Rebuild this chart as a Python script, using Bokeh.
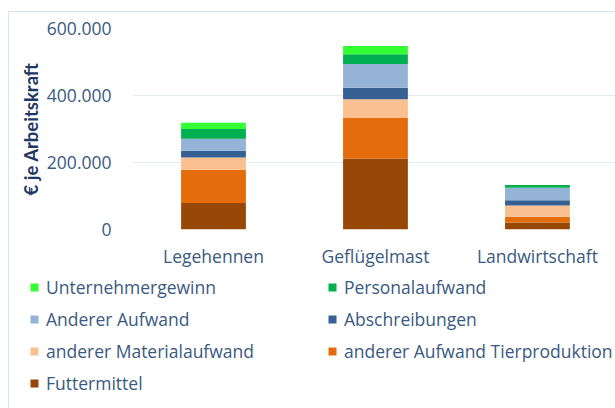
from bokeh.plotting import figure
from bokeh.layouts import column, row
from bokeh.models import Range1d, FixedTicker, Legend, LegendItem, ColumnDataSource
from bokeh.embed import file_html
from bokeh.resources import INLINE

categories = ["Legehennen", "Geflügelmast", "Landwirtschaft"]
futtermittel = [79000, 212000, 21000]
aufwand_tier = [99000, 121000, 17000]
material = [37000, 56000, 34000]
abschreibungen = [20000, 34000, 15000]
anderer_aufwand = [36000, 71000, 38000]
personal = [29000, 29000, 8000]
gewinn = [19000, 25000, 0]

series = [
    ("Futtermittel", futtermittel, "#974706"),
    ("anderer Aufwand Tierproduktion", aufwand_tier, "#E46C0A"),
    ("anderer Materialaufwand", material, "#FAC090"),
    ("Abschreibungen", abschreibungen, "#376092"),
    ("Anderer Aufwand", anderer_aufwand, "#95B3D7"),
    ("Personalaufwand", personal, "#00B050"),
    ("Unternehmergewinn", gewinn, "#33FF33"),
]
legend_order = ["Unternehmergewinn", "Personalaufwand", "Anderer Aufwand", "Abschreibungen",
                "anderer Materialaufwand", "anderer Aufwand Tierproduktion", "Futtermittel"]
y_ticks = [0, 200000, 400000, 600000]
y_tick_labels = ["0", "200.000", "400.000", "600.000"]

FONT = "Open Sans"
TXT = "#3A5A80"

xs = [i + 0.5 for i in range(len(categories))]

p = figure(width=607, height=258, output_backend="svg", toolbar_location=None,
           x_range=Range1d(0, 2.988), y_range=Range1d(0, 600000),
           min_border_left=123, min_border_top=16, min_border_right=0,
           min_border_bottom=41)
p.outline_line_color = None

bottom = [0] * len(categories)
for name, vals, col in series:
    top = [b + v for b, v in zip(bottom, vals)]
    src = ColumnDataSource(dict(x=xs, bottom=bottom, top=top))
    p.vbar(x="x", bottom="bottom", top="top", width=0.4, source=src,
           fill_color=col, line_color=None)
    bottom = top

p.xgrid.grid_line_color = None
p.ygrid.grid_line_color = "#E3EAF3"
p.ygrid.ticker = FixedTicker(ticks=y_ticks)

p.yaxis.ticker = FixedTicker(ticks=y_ticks)
p.yaxis.major_label_overrides = {t: l for t, l in zip(y_ticks, y_tick_labels)}
p.yaxis.axis_line_color = None
p.yaxis.major_tick_line_color = None
p.yaxis.minor_tick_line_color = None
p.yaxis.major_label_text_font = FONT
p.yaxis.major_label_text_font_size = "17.5px"
p.yaxis.major_label_text_color = TXT
p.yaxis.major_label_standoff = 15
p.yaxis.axis_label = "€ je Arbeitskraft"
p.yaxis.axis_label_text_font = "Lato"
p.yaxis.axis_label_text_font_style = "bold"
p.yaxis.axis_label_text_font_size = "18.5px"
p.yaxis.axis_label_text_color = "#1F3864"
p.yaxis.axis_label_standoff = 2

p.xaxis.ticker = FixedTicker(ticks=xs)
p.xaxis.major_label_overrides = {x: c for x, c in zip(xs, categories)}
p.xaxis.axis_line_color = None
p.xaxis.major_tick_line_color = None
p.xaxis.minor_tick_line_color = None
p.xaxis.major_label_text_font = FONT
p.xaxis.major_label_text_font_size = "17.5px"
p.xaxis.major_label_text_color = TXT
p.xaxis.major_label_standoff = 8

# legend-only figure below the chart
colors = {name: col for name, _, col in series}
q = figure(width=607, height=138, output_backend="svg", toolbar_location=None,
           x_range=Range1d(0, 1), y_range=Range1d(0, 1),
           x_axis_location=None, y_axis_location=None,
           min_border_left=0, min_border_right=0, min_border_top=0, min_border_bottom=0)
q.outline_line_color = None
q.xgrid.grid_line_color = None
q.ygrid.grid_line_color = None
items = []
for name in legend_order:
    r = q.rect(x=[-10], y=[-10], width=1, height=1, fill_color=colors[name], line_color=None)
    items.append(LegendItem(label=name, renderers=[r]))
legend = Legend(items=items, orientation="horizontal", ncols=2, location=(20, 13),
                border_line_color=None, background_fill_alpha=0,
                glyph_width=10, glyph_height=10, label_height=24,
                label_width=273,
                label_text_font=FONT, label_text_font_size="17.5px",
                label_text_color=TXT, spacing=8, padding=0, margin=0,
                label_standoff=7)
q.add_layout(legend, "center")

layout = column(p, row(q), spacing=0)
layout.styles = {"margin-left": "8px", "margin-top": "11px",
                 "border-left": "1px solid #D6E1EE", "border-top": "1px solid #D6E1EE"}

open("out.html", "w").write(file_html(layout, INLINE))
